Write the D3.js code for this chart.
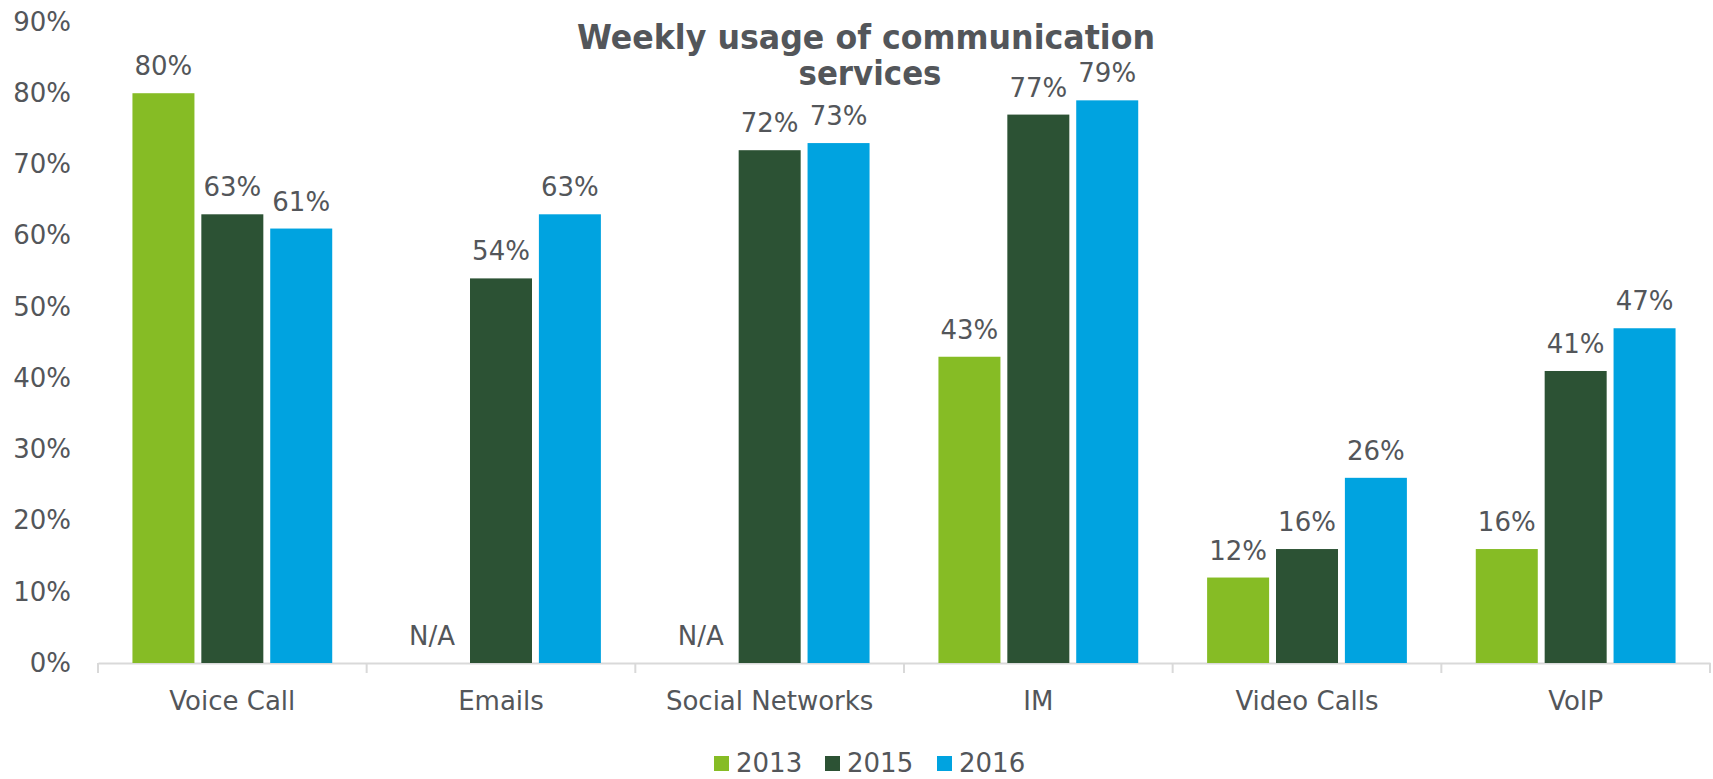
<!DOCTYPE html>
<html><head><meta charset="utf-8">
<script src="https://cdn.jsdelivr.net/npm/d3@7"></script>
<style>body{margin:0;background:#fff}svg{display:block}text{font-family:"DejaVu Sans",Verdana,sans-serif;fill:#53565A}</style>
</head><body><svg id="c" width="1713" height="779"></svg>
<script>
const categories = ["Voice Call","Emails","Social Networks","IM","Video Calls","VoIP"];
const seriesNames = ["2013","2015","2016"];
const v2013 = [80, null, null, 43, 12, 16];
const v2015 = [63, 54, 72, 77, 16, 41];
const v2016 = [61, 63, 73, 79, 26, 47];
const yTicks = [0,10,20,30,40,50,60,70,80,90];
const colors = ["#86BC25","#2C5234","#00A3E0"];
const titleLines = ["Weekly usage of communication","services"];

const svg = d3.select("#c");
const values = [v2013, v2015, v2016];
const x = d3.scaleBand().domain(categories).range([98, 1710]).paddingInner(0).paddingOuter(0);
const x1 = d3.scaleBand().domain(seriesNames).range([0, x.bandwidth()]).paddingInner(0.1).paddingOuter(0.5);
const y = d3.scaleLinear().domain([0, 90]).range([663, 22]);

// y axis labels
const yAx = svg.append("g").attr("transform","translate(71,0)")
  .call(d3.axisLeft(y).tickValues(yTicks).tickFormat(d=>d+"%").tickSize(0).tickPadding(0));
yAx.select(".domain").remove();
yAx.selectAll("text").attr("font-size",26).style("fill","#53565A").attr("font-family","DejaVu Sans");

// x axis
const xAx = svg.append("g").attr("transform","translate(0,663)")
  .call(d3.axisBottom(x).tickSize(0).tickPadding(0));
xAx.select(".domain").attr("stroke","#D9D9D9").attr("stroke-width",2);
xAx.selectAll(".tick line").remove();
xAx.selectAll("text").attr("font-size",26).attr("dy",0).attr("y",47).style("fill","#53565A").attr("font-family","DejaVu Sans");
// boundary ticks
const bounds = categories.map(c=>x(c)).concat([x.range()[1]]);
svg.append("g").selectAll("line").data(bounds).join("line")
  .attr("x1",d=>d).attr("x2",d=>d).attr("y1",663).attr("y2",673)
  .attr("stroke","#D9D9D9").attr("stroke-width",2);

// bars
const groups = svg.append("g").selectAll("g").data(categories).join("g")
  .attr("transform",c=>`translate(${x(c)},0)`);
seriesNames.forEach((s,si)=>{
  groups.append("rect")
    .filter((c,i)=>values[si][i]!==null)
    .attr("x",x1(s)).attr("width",x1.bandwidth())
    .attr("y",(c,i)=>y(values[si][categories.indexOf(c)]))
    .attr("height",(c)=>y(0)-y(values[si][categories.indexOf(c)]))
    .attr("fill",colors[si]);
  groups.append("text")
    .attr("x",x1(s)+x1.bandwidth()/2)
    .attr("y",c=>{const v=values[si][categories.indexOf(c)];return y(v===null?0:v)-18;})
    .attr("text-anchor","middle").attr("font-size",26)
    .text(c=>{const v=values[si][categories.indexOf(c)];return v===null?"N/A":v+"%";});
});

// title
svg.append("g").selectAll("text").data(titleLines).join("text")
  .attr("x",(d,i)=>i===0?866:870).attr("y",(d,i)=>49+i*36).attr("text-anchor","middle")
  .attr("font-size",33).attr("font-weight","bold")
  .attr("textLength",(d,i)=>i===0?578:143).attr("lengthAdjust","spacingAndGlyphs")
  .text(d=>d);

// legend
const legX = [714, 825, 937];
const leg = svg.append("g").selectAll("g").data(seriesNames).join("g")
  .attr("transform",(d,i)=>`translate(${legX[i]},0)`);
leg.append("rect").attr("x",0).attr("y",756).attr("width",15).attr("height",15).attr("fill",(d,i)=>colors[i]);
leg.append("text").attr("x",22).attr("y",772).attr("font-size",26).text(d=>d);
</script></body></html>
